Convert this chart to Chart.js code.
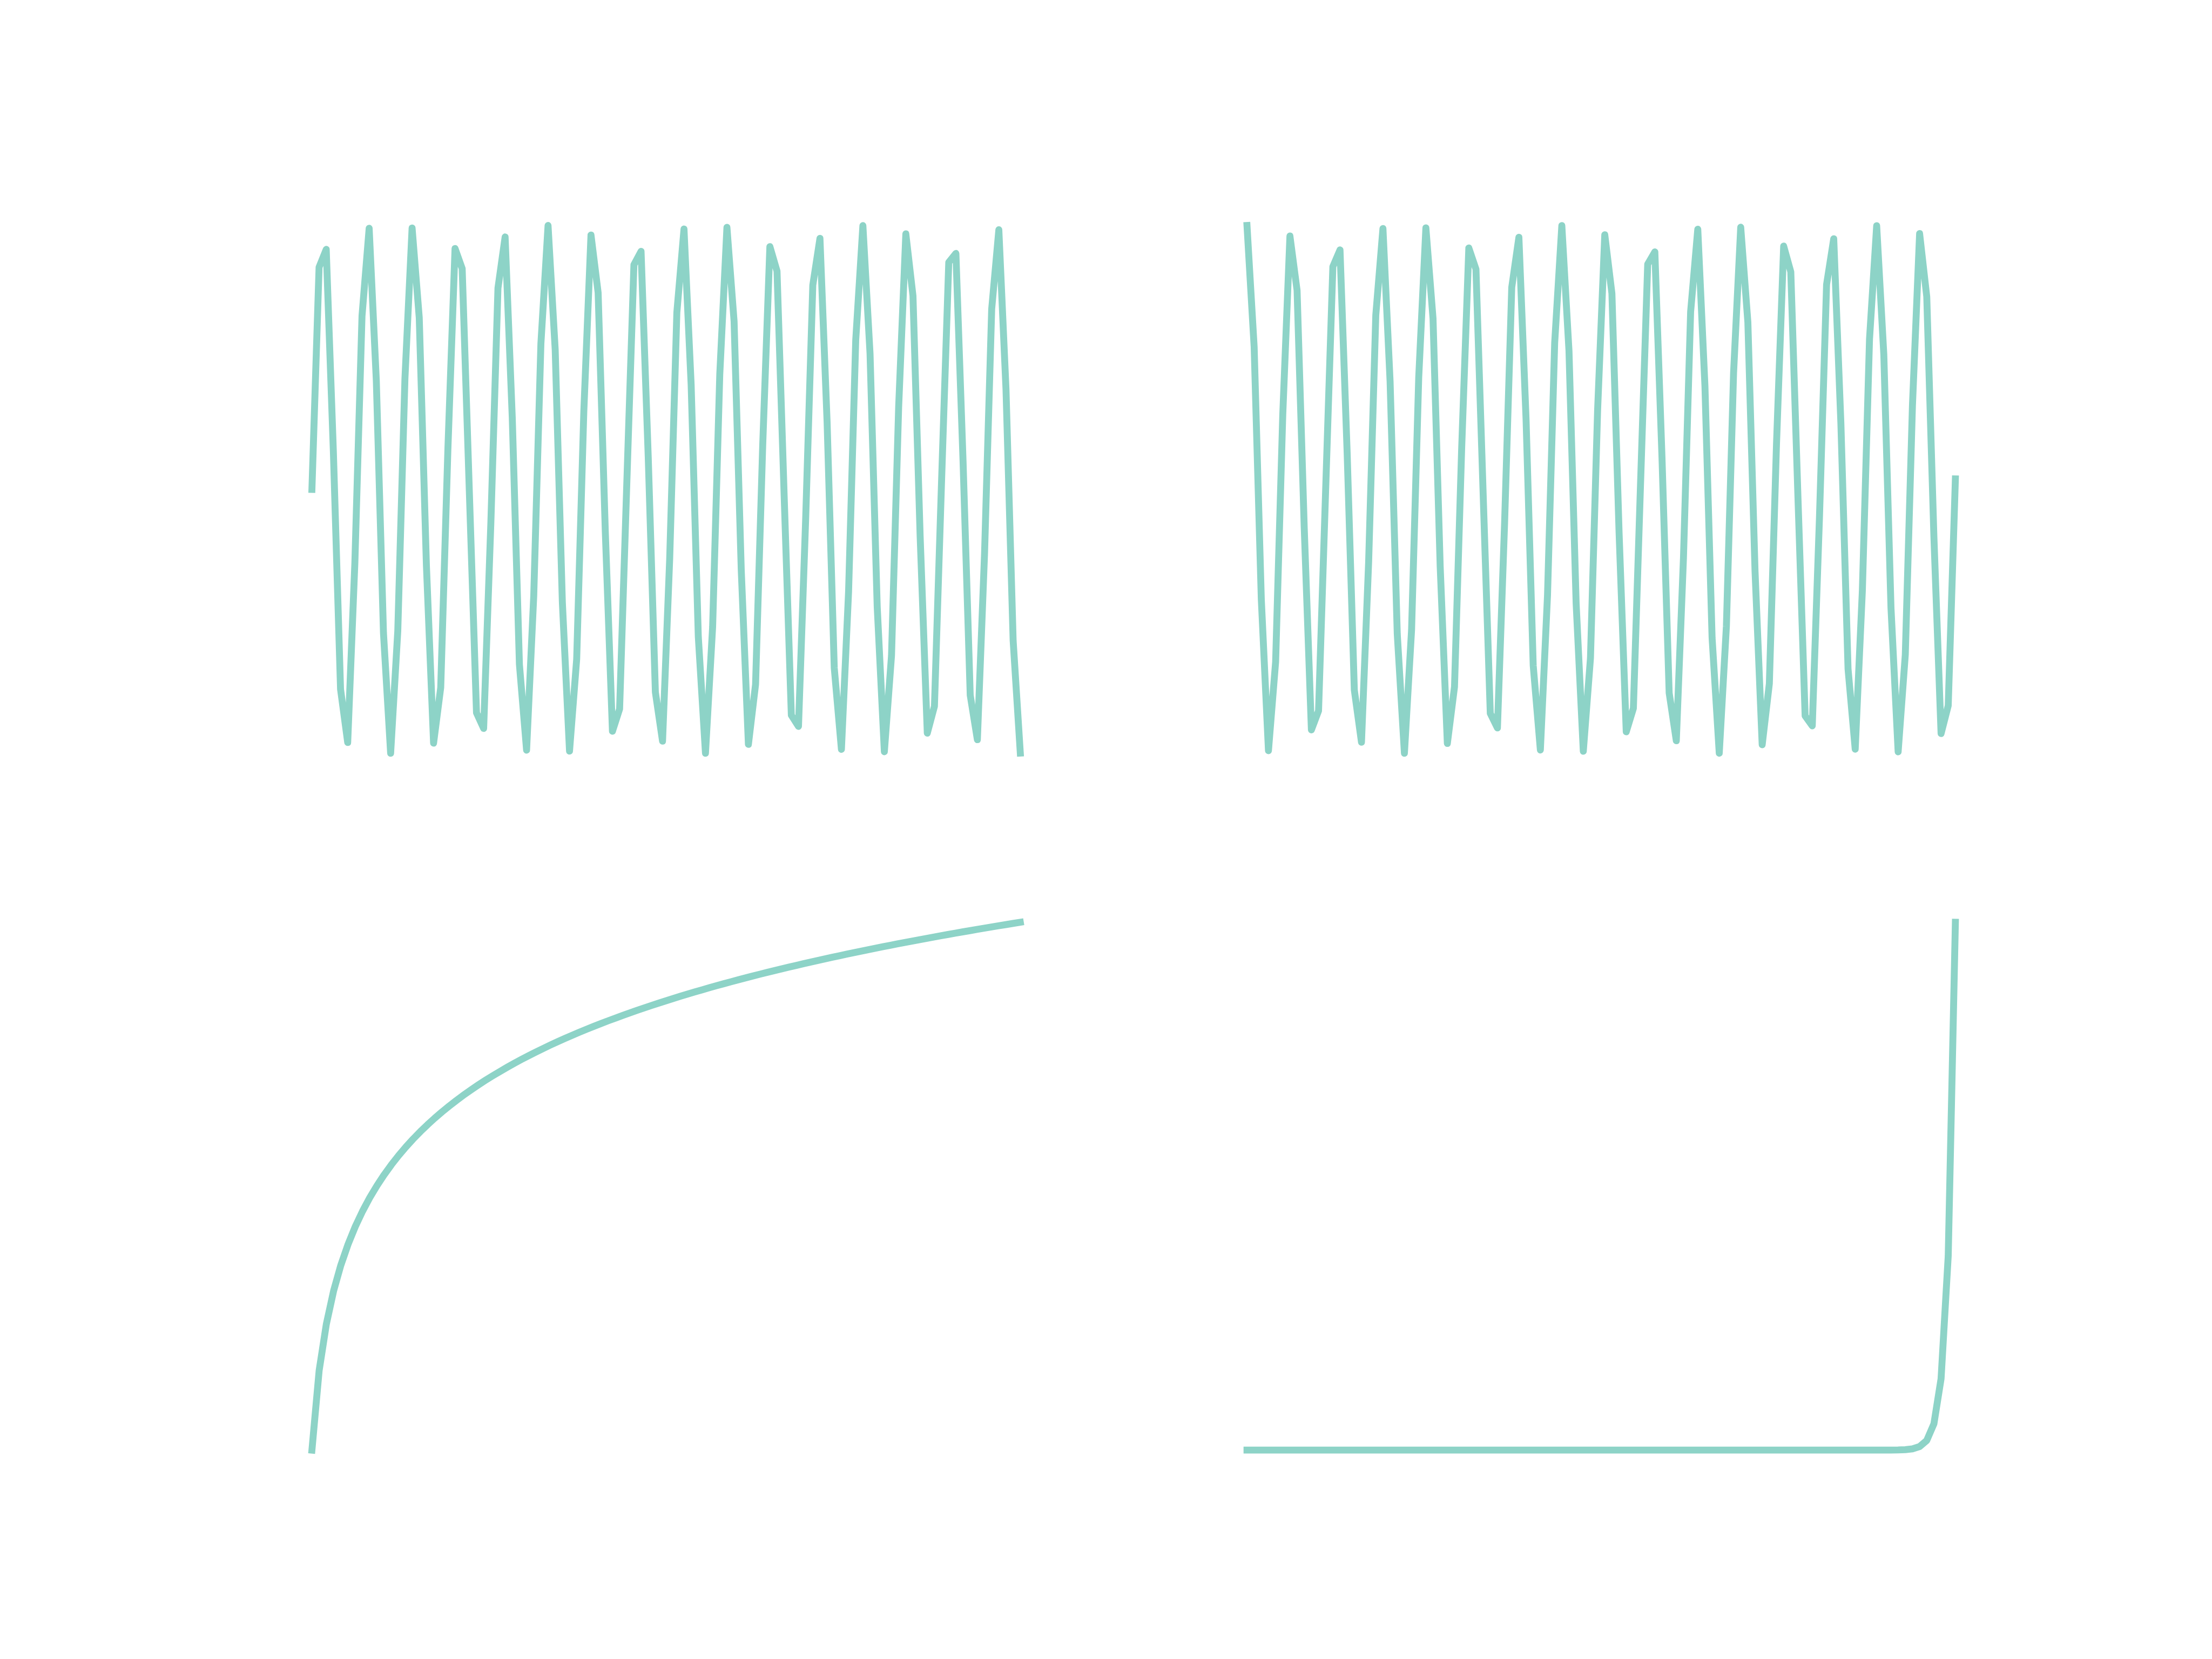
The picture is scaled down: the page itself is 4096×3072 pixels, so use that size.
<!DOCTYPE html>
<html>
<head>
<meta charset="utf-8">
<script src="https://cdn.jsdelivr.net/npm/chart.js@4.4.1/dist/chart.umd.min.js"></script>
<style>
html,body{margin:0;padding:0;background:#ffffff;overflow:hidden;width:4096px;height:3072px}
canvas{position:absolute;left:0;top:0}
</style>
</head>
<body>
<canvas id="c0" width="4096" height="3072"></canvas>
<canvas id="c1" width="4096" height="3072"></canvas>
<canvas id="c2" width="4096" height="3072"></canvas>
<canvas id="c3" width="4096" height="3072"></canvas>
<script>
// x values 0..99
const xs = [0,1,2,3,4,5,6,7,8,9,10,11,12,13,14,15,16,17,18,19,20,21,22,23,24,25,26,27,28,29,30,31,32,33,34,35,36,37,38,39,40,41,42,43,44,45,46,47,48,49,50,51,52,53,54,55,56,57,58,59,60,61,62,63,64,65,66,67,68,69,70,71,72,73,74,75,76,77,78,79,80,81,82,83,84,85,86,87,88,89,90,91,92,93,94,95,96,97,98,99];

// top-left panel
const sinY = [0.0000,0.8415,0.9093,0.1411,-0.7568,-0.9589,-0.2794,0.6570,0.9894,0.4121,
-0.5440,-1.0000,-0.5366,0.4202,0.9906,0.6503,-0.2879,-0.9614,-0.7510,0.1499,
0.9129,0.8367,-0.0089,-0.8462,-0.9056,-0.1324,0.7626,0.9564,0.2709,-0.6636,
-0.9880,-0.4040,0.5514,0.9999,0.5291,-0.4282,-0.9918,-0.6435,0.2964,0.9638,
0.7451,-0.1586,-0.9165,-0.8318,0.0177,0.8509,0.9018,0.1236,-0.7683,-0.9538,
-0.2624,0.6702,0.9866,0.3959,-0.5588,-0.9998,-0.5216,0.4362,0.9929,0.6367,
-0.3048,-0.9661,-0.7392,0.1674,0.9200,0.8268,-0.0266,-0.8555,-0.8979,-0.1148,
0.7739,0.9511,0.2538,-0.6768,-0.9851,-0.3878,0.5661,0.9995,0.5140,-0.4441,
-0.9939,-0.6299,0.3132,0.9684,0.7332,-0.1761,-0.9235,-0.8218,0.0354,0.8601,
0.8940,0.1060,-0.7795,-0.9483,-0.2453,0.6833,0.9836,0.3796,-0.5734,-0.9992];

// top-right panel
const cosY = [1.0000,0.5403,-0.4161,-0.9900,-0.6536,0.2837,0.9602,0.7539,-0.1455,-0.9111,
-0.8391,0.0044,0.8439,0.9074,0.1367,-0.7597,-0.9577,-0.2752,0.6603,0.9887,
0.4081,-0.5477,-1.0000,-0.5328,0.4242,0.9912,0.6469,-0.2921,-0.9626,-0.7481,
0.1543,0.9147,0.8342,-0.0133,-0.8486,-0.9037,-0.1280,0.7654,0.9551,0.2666,
-0.6669,-0.9873,-0.4000,0.5551,0.9998,0.5253,-0.4322,-0.9923,-0.6401,0.3006,
0.9650,0.7422,-0.1630,-0.9183,-0.8293,0.0221,0.8532,0.8999,0.1192,-0.7711,
-0.9524,-0.2581,0.6735,0.9859,0.3919,-0.5625,-0.9996,-0.5178,0.4401,0.9934,
0.6333,-0.3090,-0.9673,-0.7362,0.1717,0.9218,0.8243,-0.0310,-0.8578,-0.8960,
-0.1104,0.7767,0.9497,0.2495,-0.6800,-0.9844,-0.3837,0.5698,0.9994,0.5102,
-0.4481,-0.9944,-0.6264,0.3174,0.9695,0.7302,-0.1804,-0.9251,-0.8193,0.0398];

// bottom-left panel (first point undefined)
const logY = [null,0.0000,0.6931,1.0986,1.3863,1.6094,1.7918,1.9459,2.0794,2.1972,
2.3026,2.3979,2.4849,2.5649,2.6391,2.7081,2.7726,2.8332,2.8904,2.9444,
2.9957,3.0445,3.0910,3.1355,3.1781,3.2189,3.2581,3.2958,3.3322,3.3673,
3.4012,3.4340,3.4657,3.4965,3.5264,3.5553,3.5835,3.6109,3.6376,3.6636,
3.6889,3.7136,3.7377,3.7612,3.7842,3.8067,3.8286,3.8501,3.8712,3.8918,
3.9120,3.9318,3.9512,3.9703,3.9890,4.0073,4.0254,4.0431,4.0604,4.0775,
4.0943,4.1109,4.1271,4.1431,4.1589,4.1744,4.1897,4.2047,4.2195,4.2341,
4.2485,4.2627,4.2767,4.2905,4.3041,4.3175,4.3307,4.3438,4.3567,4.3694,
4.3820,4.3944,4.4067,4.4188,4.4308,4.4427,4.4543,4.4659,4.4773,4.4886,
4.4998,4.5109,4.5218,4.5326,4.5433,4.5539,4.5643,4.5747,4.5850,4.5951];

// bottom-right panel
const expY = [1,2.718282,7.389056,20.085537,54.59815,148.41316,403.42879,1096.6332,2980.958,8103.0839,
22026.466,59874.142,162754.79,442413.39,1202604.3,3269017.4,8886110.5,24154953,65659969,1.7848231e8,
4.8516520e8,1.3188157e9,3.5849129e9,9.7448035e9,2.6489122e10,7.2004899e10,1.9572961e11,5.3204824e11,1.4462570e12,3.9313343e12,
1.0686475e13,2.9048849e13,7.8962960e13,2.1464358e14,5.8346174e14,1.5860135e15,4.3112316e15,1.1719142e16,3.1855932e16,8.6593400e16,
2.3538527e17,6.3984349e17,1.7392749e18,4.7278395e18,1.2851600e19,3.4934271e19,9.4961194e19,2.5813129e20,7.0167359e20,1.9073466e21,
5.1847055e21,1.4093491e22,3.8310080e22,1.0413759e23,2.8307533e23,7.6947545e23,2.0916595e24,5.6857199e24,1.5455389e25,4.2012104e25,
1.1420074e26,3.1042979e26,8.4383566e26,2.2937832e27,6.2351491e27,1.6948892e28,4.6071866e28,1.2523632e29,3.4042761e29,9.2537817e29,
2.5154387e30,6.8376712e30,1.8586717e31,5.0523936e31,1.3733830e32,3.7332419e32,1.0148003e33,2.7585135e33,7.4983822e33,2.0382811e34,
5.5406223e34,1.5060973e35,4.0939970e35,1.1128638e36,3.0250773e36,8.2230127e36,2.2352466e37,6.0760302e37,1.6516363e38,4.4896128e38,
1.2204033e39,3.3174000e39,9.0176284e39,2.4512455e40,6.6631762e40,1.8112391e41,4.9234582e41,1.3383390e42,3.6379709e42,9.8890303e42];

const W = 4096, H = 3072;
const axW = W * 0.775 / 2.2;
const axH = H * 0.77 / 2.2;
const LINE = '#8dd3c7';

function limits(vals) {
  const v = vals.filter(a => a !== null && isFinite(a));
  const mn = Math.min(...v), mx = Math.max(...v);
  const d = mx - mn;
  return [mn - 0.05 * d, mx + 0.05 * d];
}

function panel(id, col, row, ys) {
  const left = W * 0.125 + col * axW * 1.2;
  const top = H * 0.12 + row * axH * 1.2;
  const pts = xs.map((x, i) => ({x: x, y: ys[i]}));
  const xl = limits(xs.filter((x, i) => ys[i] !== null));
  const yl = limits(ys);
  new Chart(document.getElementById(id), {
    type: 'line',
    data: {
      datasets: [{
        data: pts,
        borderColor: LINE,
        borderWidth: 12.8,
        pointRadius: 0,
        pointHoverRadius: 0,
        tension: 0,
        fill: false,
        borderCapStyle: 'square',
        borderJoinStyle: 'round',
        clip: false,
        spanGaps: false
      }]
    },
    options: {
      responsive: false,
      animation: false,
      devicePixelRatio: 1,
      events: [],
      layout: {padding: {left: left, top: top, right: W - left - axW, bottom: H - top - axH}},
      plugins: {legend: {display: false}, tooltip: {enabled: false}, title: {display: false}},
      scales: {
        x: {type: 'linear', display: false, min: xl[0], max: xl[1], bounds: 'data'},
        y: {type: 'linear', display: false, min: yl[0], max: yl[1], bounds: 'data'}
      }
    }
  });
}

panel('c0', 0, 0, sinY);
panel('c1', 1, 0, cosY);
panel('c2', 0, 1, logY);
panel('c3', 1, 1, expY);
</script>
</body>
</html>
